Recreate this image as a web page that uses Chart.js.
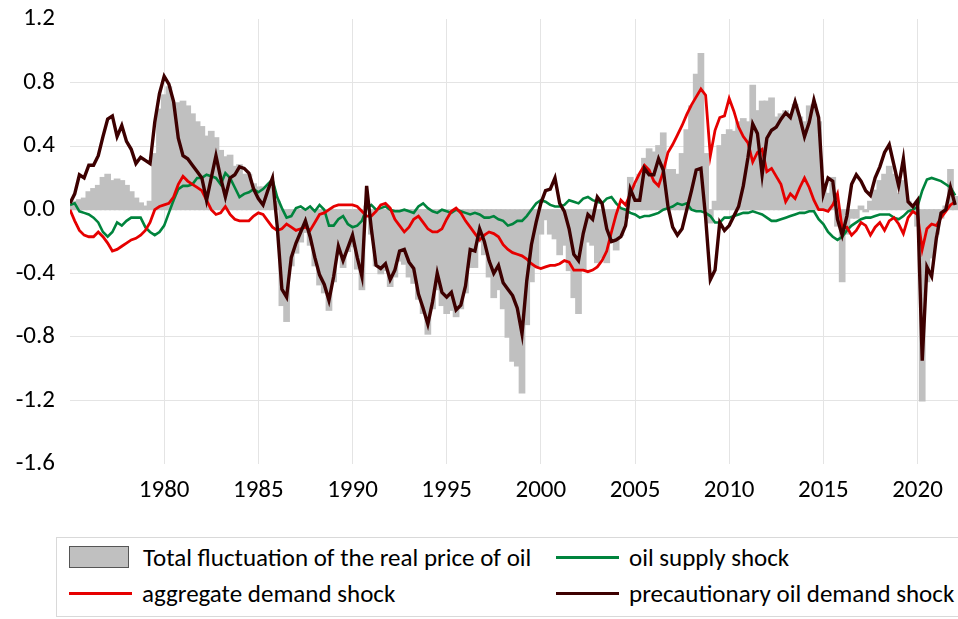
<!DOCTYPE html>
<html>
<head>
<meta charset="utf-8">
<script src="https://cdn.jsdelivr.net/npm/chart.js@4.4.1/dist/chart.umd.min.js"></script>
<style>
  body { margin: 0; background: #fff; width: 958px; height: 619px; overflow: hidden; position: relative; font-family: Carlito, Lato, sans-serif; }
  #chart { position: absolute; left: 0; top: 0; }
  #legend { position: absolute; left: 56px; top: 537px; width: 910px; height: 80px; border: 1px solid #d9d9d9; box-sizing: border-box; }
  .item { position: absolute; height: 30px; display: flex; align-items: center; font-size: 25px; color: #000; white-space: nowrap; }
  .box { width: 60px; height: 22px; background: #c0c0c0; border: 1.5px solid #555; box-sizing: border-box; margin-right: 14px; }
  .line { width: 63px; height: 3px; margin-right: 10px; }
</style>
</head>
<body>
<canvas id="chart" width="958" height="520"></canvas>
<div id="legend"></div>
<script>
// quarterly observations, 1975Q1 .. 2022Q1
const startYear = 1975;
const quartersPerYear = 4;

const totalFluctuation = [
  0.03, 0.05, 0.06, 0.07, 0.11, 0.13, 0.15, 0.20,       // 1975-76
  0.22, 0.18, 0.19, 0.18, 0.15, 0.11, 0.07, 0.04,       // 1977-78
  0.02, 0.05, 0.35, 0.63, 0.72, 0.77, 0.66, 0.67,       // 1979-80
  0.68, 0.65, 0.60, 0.55, 0.52, 0.46, 0.49, 0.45,       // 1981-82
  0.37, 0.33, 0.34, 0.27, 0.28, 0.22, 0.22, 0.16,       // 1983-84
  0.14, 0.14, 0.14, 0.14, 0.05, -0.60, -0.70, -0.35,    // 1985-86
  -0.27, -0.20, -0.14, -0.22, -0.35, -0.47, -0.52, -0.63,
  -0.45, -0.28, -0.36, -0.26, -0.23, -0.37, -0.50, 0.02,
  -0.15, -0.35, -0.40, -0.38, -0.48, -0.42, -0.32, -0.34,
  -0.42, -0.46, -0.56, -0.65, -0.78, -0.62, -0.50, -0.60,
  -0.65, -0.63, -0.67, -0.62, -0.52, -0.36, -0.36, -0.20,
  -0.28, -0.42, -0.55, -0.50, -0.62, -0.80, -0.95, -0.98,
  -1.15, -0.72, -0.45, -0.35, -0.15, -0.06, -0.15, -0.18, // 1999-2000
  -0.28, -0.22, -0.38, -0.55, -0.65, -0.38, -0.20, -0.22,
  -0.33, -0.30, -0.33, -0.20, -0.25, -0.16, -0.05, 0.20,
  0.15, 0.22, 0.32, 0.38, 0.36, 0.40, 0.48, 0.25,
  0.25, 0.22, 0.35, 0.50, 0.65, 0.85, 0.98, 0.35,
  -0.08, 0.05, 0.40, 0.47, 0.50, 0.49, 0.55, 0.57,
  0.55, 0.78, 0.62, 0.68, 0.68, 0.70, 0.58, 0.60,
  0.62, 0.60, 0.66, 0.58, 0.55, 0.65, 0.66, 0.55,
  0.15, 0.10, 0.20, -0.10, -0.45, -0.15, -0.05, -0.05,
  0.02, -0.01, 0.05, 0.12, 0.18, 0.22, 0.27, 0.22,
  0.10, 0.18, 0.05, -0.02, -0.10, -1.20, -0.45, -0.30,
  -0.15, -0.05, 0.02, 0.25, 0.08                        // 2021-22
];

const supplyShock = [
  0.03, 0.04, -0.01, -0.02, -0.03, -0.05, -0.08, -0.14,
  -0.17, -0.14, -0.08, -0.10, -0.07, -0.05, -0.05, -0.05,
  -0.11, -0.14, -0.16, -0.14, -0.10, -0.02, 0.06, 0.13,
  0.15, 0.15, 0.16, 0.20, 0.20, 0.22, 0.21, 0.20,
  0.16, 0.23, 0.20, 0.14, 0.08, 0.10, 0.11, 0.13,
  0.11, 0.13, 0.16, 0.19, 0.08, 0.01, -0.05, -0.04,
  0.01, 0.02, 0.00, 0.02, -0.01, 0.03, 0.00, -0.10,
  -0.10, -0.06, -0.04, -0.09, -0.11, -0.10, -0.07, 0.01,
  0.03, 0.00, 0.01, 0.02, 0.00, -0.01, -0.01, 0.00,
  -0.01, -0.02, 0.02, 0.04, 0.01, -0.01, -0.02, 0.00,
  -0.01, -0.02, 0.00, -0.01, -0.02, -0.03, -0.02, -0.03,
  -0.05, -0.05, -0.04, -0.06, -0.07, -0.10, -0.09, -0.07,
  -0.07, -0.04, 0.00, 0.04, 0.06, 0.05, 0.03, 0.02,
  0.02, 0.03, 0.06, 0.05, 0.04, 0.07, 0.08, 0.06,
  0.05, 0.04, 0.07, 0.08, 0.04, 0.01, 0.00, -0.02,
  -0.03, -0.05, -0.04, -0.04, -0.03, -0.02, 0.00, 0.01,
  0.02, 0.04, 0.03, 0.04, 0.00, -0.01, -0.01, -0.02,
  -0.04, -0.08, -0.08, -0.05, -0.05, -0.04, -0.03, -0.02,
  -0.02, -0.01, -0.02, -0.03, -0.05, -0.07, -0.07, -0.06,
  -0.05, -0.04, -0.03, -0.02, -0.02, -0.01, -0.01, -0.06,
  -0.09, -0.14, -0.17, -0.19, -0.17, -0.13, -0.10, -0.08,
  -0.06, -0.05, -0.05, -0.04, -0.03, -0.03, -0.03, -0.05,
  -0.06, -0.04, -0.01, 0.00, 0.02, 0.12, 0.19, 0.20,
  0.19, 0.18, 0.16, 0.14, 0.09
];

const aggregateDemandShock = [
  0.00, -0.07, -0.13, -0.16, -0.17, -0.17, -0.14, -0.17,
  -0.21, -0.26, -0.25, -0.23, -0.21, -0.19, -0.18, -0.16,
  -0.13, -0.08, 0.00, 0.02, 0.03, 0.04, 0.08, 0.16,
  0.21, 0.18, 0.16, 0.14, 0.12, 0.06, 0.00, -0.03,
  -0.02, 0.02, -0.03, -0.06, -0.07, -0.07, -0.07, -0.04,
  -0.02, -0.03, -0.07, -0.11, -0.13, -0.12, -0.09, -0.11,
  -0.13, -0.12, -0.11, -0.13, -0.08, -0.03, -0.02, 0.00,
  0.02, 0.03, 0.03, 0.03, 0.03, 0.02, -0.01, -0.04,
  -0.04, -0.01, 0.03, 0.04, 0.01, -0.06, -0.10, -0.14,
  -0.11, -0.06, -0.04, -0.08, -0.12, -0.14, -0.14, -0.12,
  -0.06, -0.01, 0.01, -0.02, -0.07, -0.11, -0.15, -0.19,
  -0.16, -0.14, -0.15, -0.17, -0.22, -0.25, -0.27, -0.28,
  -0.29, -0.31, -0.34, -0.36, -0.37, -0.36, -0.35, -0.35,
  -0.34, -0.32, -0.33, -0.38, -0.38, -0.38, -0.39, -0.38,
  -0.36, -0.32, -0.26, -0.14, -0.03, 0.06, 0.03, 0.10,
  0.17, 0.23, 0.28, 0.25, 0.18, 0.15, 0.24, 0.36,
  0.41, 0.47, 0.53, 0.60, 0.66, 0.71, 0.76, 0.72,
  0.34, 0.50, 0.58, 0.59, 0.70, 0.62, 0.52, 0.46,
  0.42, 0.30, 0.36, 0.38, 0.24, 0.26, 0.21, 0.16,
  0.05, 0.10, 0.07, 0.14, 0.20, 0.14, 0.06, 0.00,
  0.00, -0.01, 0.03, 0.10, -0.12, -0.11, -0.16, -0.13,
  -0.08, -0.10, -0.16, -0.11, -0.08, -0.13, -0.07, -0.05,
  -0.09, -0.15, -0.05, -0.01, -0.03, -0.25, -0.12, -0.09,
  -0.10, -0.05, -0.01, 0.03, 0.05
];

const precautionaryShock = [
  0.04, 0.10, 0.22, 0.20, 0.28, 0.28, 0.34, 0.46,
  0.57, 0.59, 0.46, 0.53, 0.43, 0.38, 0.29, 0.33,
  0.31, 0.29, 0.55, 0.73, 0.84, 0.79, 0.68, 0.45,
  0.34, 0.32, 0.28, 0.24, 0.20, 0.06, 0.20, 0.34,
  0.20, 0.08, 0.20, 0.22, 0.27, 0.26, 0.23, 0.13,
  0.07, 0.03, 0.12, 0.20, -0.10, -0.50, -0.55, -0.30,
  -0.21, -0.14, -0.07, -0.17, -0.30, -0.41, -0.47, -0.57,
  -0.42, -0.23, -0.32, -0.24, -0.16, -0.30, -0.42, 0.15,
  -0.12, -0.35, -0.37, -0.34, -0.44, -0.38, -0.26, -0.25,
  -0.33, -0.37, -0.53, -0.62, -0.72, -0.58, -0.40, -0.52,
  -0.55, -0.52, -0.63, -0.60, -0.48, -0.25, -0.26, -0.12,
  -0.20, -0.32, -0.40, -0.35, -0.46, -0.50, -0.54, -0.62,
  -0.78, -0.45, -0.22, -0.08, 0.04, 0.12, 0.13, 0.20,
  0.04, -0.01, -0.12, -0.28, -0.32, -0.15, -0.03, -0.06,
  0.08, 0.04, -0.12, -0.20, -0.19, -0.17, -0.10, 0.13,
  0.06, 0.06, 0.26, 0.22, 0.22, 0.32, 0.25, 0.02,
  -0.11, -0.16, -0.12, 0.00, 0.12, 0.25, 0.26, -0.05,
  -0.44, -0.38, -0.08, -0.13, -0.10, -0.04, 0.02, 0.15,
  0.33, 0.54, 0.48, 0.22, 0.45, 0.50, 0.52, 0.57,
  0.61, 0.58, 0.68, 0.58, 0.46, 0.55, 0.69, 0.58,
  0.10, 0.20, 0.18, -0.06, -0.16, -0.04, 0.16, 0.22,
  0.18, 0.12, 0.09, 0.20, 0.27, 0.36, 0.41, 0.28,
  0.15, 0.32, 0.05, 0.02, 0.06, -0.95, -0.36, -0.42,
  -0.18, -0.02, 0.00, 0.14, 0.03
];

const xTickYears = [1980, 1985, 1990, 1995, 2000, 2005, 2010, 2015, 2020];
const yTickValues = [-1.6, -1.2, -0.8, -0.4, 0, 0.4, 0.8, 1.2];

const dates = totalFluctuation.map((_, i) => startYear + i / quartersPerYear);
const toPoints = values => values.map((v, i) => ({ x: dates[i], y: v }));

const tickFont = { family: 'Carlito, Lato, sans-serif', size: 25 };
const gridColor = '#e4e4e4';

const series = [
  { label: 'precautionary oil demand shock', values: precautionaryShock, color: '#3d0000', width: 3.4 },
  { label: 'aggregate demand shock', values: aggregateDemandShock, color: '#e60000', width: 2.8 },
  { label: 'oil supply shock', values: supplyShock, color: '#00843d', width: 2.6 }
];

const datasets = series.map((s, i) => ({
  type: 'line',
  label: s.label,
  data: toPoints(s.values),
  borderColor: s.color,
  borderWidth: s.width,
  pointRadius: 0,
  tension: 0,
  order: i + 1
}));
datasets.push({
  type: 'bar',
  label: 'Total fluctuation of the real price of oil',
  data: toPoints(totalFluctuation),
  backgroundColor: '#c0c0c0',
  borderWidth: 0,
  barPercentage: 1,
  categoryPercentage: 1,
  inflateAmount: 1,
  order: 10
});

new Chart(document.getElementById('chart'), {
  type: 'bar',
  data: { datasets },
  options: {
    responsive: false,
    animation: false,
    devicePixelRatio: 1,
    layout: { padding: { top: 19, left: 0, right: 0, bottom: 0 } },
    plugins: { legend: { display: false }, tooltip: { enabled: false } },
    scales: {
      x: {
        type: 'linear',
        min: 1975,
        max: 2022.15,
        offset: false,
        grid: { offset: false, color: gridColor, drawTicks: false },
        border: { display: false },
        ticks: { padding: 12, color: '#000', font: tickFont, maxRotation: 0, callback: v => String(v) },
        afterBuildTicks: s => { s.ticks = xTickYears.map(v => ({ value: v })); },
        afterFit: s => { s.height = 56; s.paddingLeft = 0; s.paddingRight = 0; }
      },
      y: {
        min: -1.6,
        max: 1.2,
        grid: {
          drawTicks: false,
          color: c => (c.tick && (c.tick.value > 1.1 || c.tick.value < -1.5)) ? 'rgba(0,0,0,0)' : gridColor
        },
        border: { display: false },
        ticks: {
          padding: 15,
          color: '#000',
          font: tickFont,
          callback: v => (Math.abs(v) < 1e-9 ? 0 : v).toFixed(1)
        },
        afterBuildTicks: s => { s.ticks = yTickValues.map(v => ({ value: v })); },
        afterFit: s => { s.width = 70; s.paddingTop = 0; s.paddingBottom = 0; }
      }
    }
  }
});

// legend, two columns like the original
const legendItems = [
  { label: 'Total fluctuation of the real price of oil', kind: 'box', left: 12, top: 4 },
  { label: 'oil supply shock', kind: 'line', color: '#00843d', left: 499, top: 4 },
  { label: 'aggregate demand shock', kind: 'line', color: '#e60000', left: 12, top: 40 },
  { label: 'precautionary oil demand shock', kind: 'line', color: '#3d0000', left: 499, top: 40 }
];
const legendEl = document.getElementById('legend');
legendItems.forEach(it => {
  const d = document.createElement('div');
  d.className = 'item';
  d.style.left = it.left + 'px';
  d.style.top = it.top + 'px';
  const m = document.createElement('span');
  m.className = it.kind;
  if (it.kind === 'line') m.style.background = it.color;
  const t = document.createElement('span');
  t.textContent = it.label;
  d.appendChild(m);
  d.appendChild(t);
  legendEl.appendChild(d);
});
</script>
</body>
</html>
